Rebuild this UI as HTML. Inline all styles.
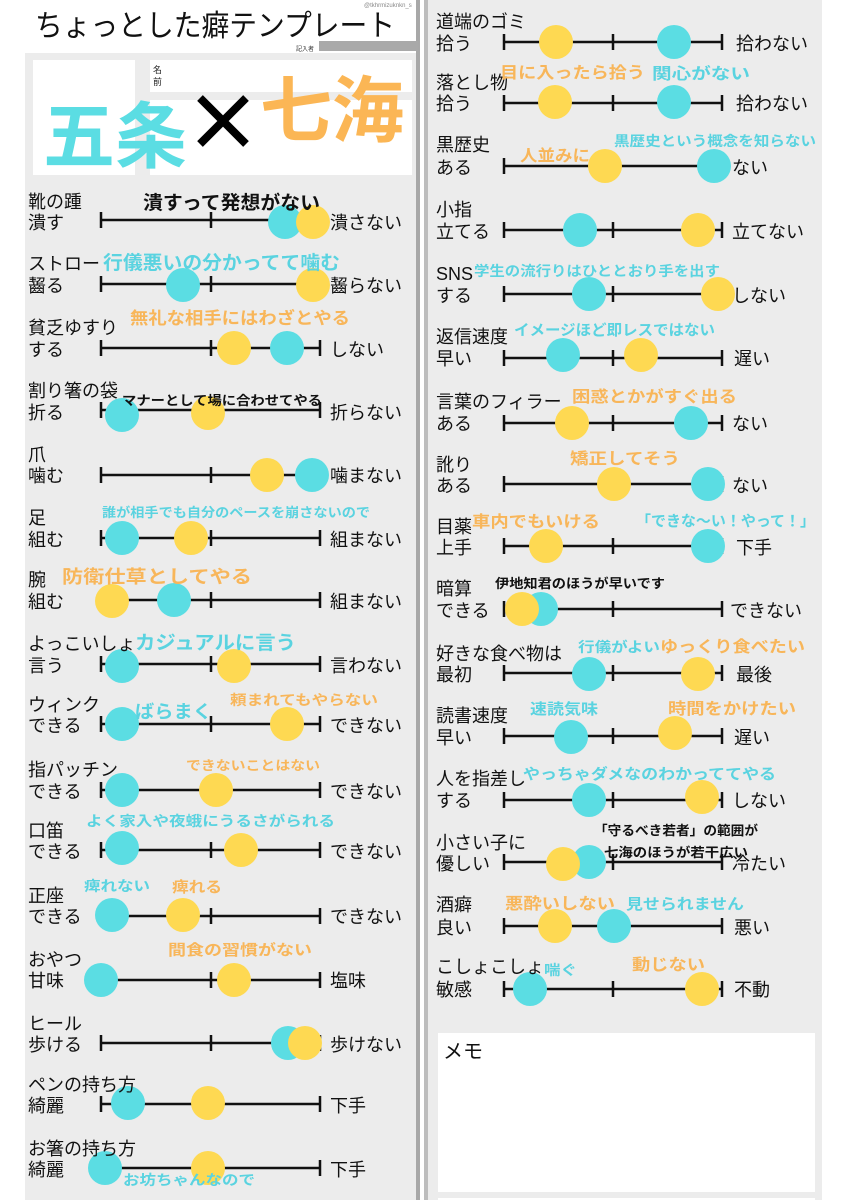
<!DOCTYPE html>
<html><head><meta charset="utf-8"><style>
html,body{margin:0;padding:0;background:#fff;}
svg{display:block;}
text{font-family:"Liberation Sans","Noto Sans CJK JP",sans-serif;}
.l{font-size:18px;fill:#111;}
.b{font-weight:bold;}
</style></head><body>
<svg width="848" height="1200" viewBox="0 0 848 1200" xmlns="http://www.w3.org/2000/svg">
<rect width="848" height="1200" fill="#fff"/>
<!-- left panel -->
<rect x="25" y="53" width="392" height="1147" fill="#ececec"/>
<rect x="416" y="0" width="4" height="1200" fill="#a8a8a8"/>
<rect x="424" y="0" width="4" height="1200" fill="#bdbdbd"/>
<!-- right panel -->
<rect x="428" y="0" width="394" height="1200" fill="#ececec"/>
<!-- title -->
<text x="35" y="36" font-size="30" fill="#111" textLength="360" lengthAdjust="spacingAndGlyphs">ちょっとした癖テンプレート</text>
<text x="364" y="7" font-size="6" fill="#888">@tkhrmizuknkn_s</text>
<text x="296" y="51" font-size="6" fill="#333">記入者</text>
<rect x="319" y="41" width="99" height="10" fill="#a9a9a9"/>
<!-- name area -->
<rect x="33" y="60" width="102" height="115" fill="#fff"/>
<rect x="150" y="60" width="262" height="32" fill="#fff"/>
<rect x="150" y="100" width="262" height="75" fill="#fff"/>
<text x="153" y="73" font-size="9" fill="#222">名</text>
<text x="153" y="85" font-size="9" fill="#222">前</text>
<text x="43" y="162" font-size="72" font-weight="bold" fill="#5bdde3" textLength="144" lengthAdjust="spacingAndGlyphs">五条</text>
<path d="M200 98 L246 144 M246 98 L200 144" stroke="#000" stroke-width="8"/>
<text x="260" y="136" font-size="72" font-weight="bold" fill="#fbb655" textLength="144" lengthAdjust="spacingAndGlyphs">七海</text>

<g stroke="#111" stroke-width="2.5">
<!-- left lines -->
<path d="M101 220H320M101 284H320M101 348H320M101 410H320M101 475H320M101 538H320M101 600H320M101 664H320M101 724H320M101 790H320M101 850H320M101 916H320M101 980H320M101 1043H320M101 1104H320M101 1168H320"/>
<path d="M101 212v16M211 212v16M320 212v16 M101 276v16M211 276v16M320 276v16 M101 340v16M211 340v16M320 340v16 M101 402v16M320 402v16 M101 467v16M211 467v16M320 467v16 M101 530v16M211 530v16M320 530v16 M101 592v16M211 592v16M320 592v16 M101 656v16M211 656v16M320 656v16 M101 716v16M211 716v16M320 716v16 M101 782v16M211 782v16M320 782v16 M101 842v16M211 842v16M320 842v16 M101 908v16M211 908v16M320 908v16 M101 972v16M211 972v16M320 972v16 M101 1035v16M211 1035v16M320 1035v16 M101 1096v16M320 1096v16 M101 1160v16M320 1160v16"/>
<!-- right lines -->
<path d="M504 42H722M504 103H722M504 166H722M504 230H722M504 294H722M504 358H722M504 423H722M504 484H722M504 546H722M504 609H722M504 673H722M504 736H722M504 800H722M504 862H722M504 926H722M504 989H722"/>
<path d="M504 34v16M613 34v16M722 34v16 M504 95v16M613 95v16M722 95v16 M504 158v16M722 158v16 M504 222v16M613 222v16M722 222v16 M504 286v16M613 286v16M722 286v16 M504 350v16M613 350v16M722 350v16 M504 415v16M613 415v16M722 415v16 M504 476v16M722 476v16 M504 538v16M613 538v16M722 538v16 M504 601v16M613 601v16M722 601v16 M504 665v16M613 665v16M722 665v16 M504 728v16M613 728v16M722 728v16 M504 792v16M613 792v16M722 792v16 M504 854v16M613 854v16M722 854v16 M504 918v16M722 918v16 M504 981v16M613 981v16M722 981v16"/>
</g>

<!-- left circles -->
<g>
<circle cx="285" cy="222" r="17" fill="#5bdde3"/><circle cx="313" cy="222" r="17" fill="#fed952"/>
<circle cx="183" cy="285" r="17" fill="#5bdde3"/><circle cx="313" cy="285" r="17" fill="#fed952"/>
<circle cx="234" cy="348" r="17" fill="#fed952"/><circle cx="287" cy="348" r="17" fill="#5bdde3"/>
<circle cx="122" cy="415" r="17" fill="#5bdde3"/><circle cx="208" cy="413" r="17" fill="#fed952"/>
<circle cx="267" cy="475" r="17" fill="#fed952"/><circle cx="312" cy="475" r="17" fill="#5bdde3"/>
<circle cx="122" cy="538" r="17" fill="#5bdde3"/><circle cx="191" cy="538" r="17" fill="#fed952"/>
<circle cx="112" cy="601" r="17" fill="#fed952"/><circle cx="174" cy="600" r="17" fill="#5bdde3"/>
<circle cx="122" cy="666" r="17" fill="#5bdde3"/><circle cx="234" cy="666" r="17" fill="#fed952"/>
<circle cx="122" cy="724" r="17" fill="#5bdde3"/><circle cx="287" cy="724" r="17" fill="#fed952"/>
<circle cx="122" cy="790" r="17" fill="#5bdde3"/><circle cx="216" cy="790" r="17" fill="#fed952"/>
<circle cx="122" cy="848" r="17" fill="#5bdde3"/><circle cx="241" cy="850" r="17" fill="#fed952"/>
<circle cx="112" cy="915" r="17" fill="#5bdde3"/><circle cx="183" cy="915" r="17" fill="#fed952"/>
<circle cx="101" cy="980" r="17" fill="#5bdde3"/><circle cx="234" cy="980" r="17" fill="#fed952"/>
<circle cx="288" cy="1043" r="17" fill="#5bdde3"/><circle cx="305" cy="1043" r="17" fill="#fed952"/>
<circle cx="128" cy="1103" r="17" fill="#5bdde3"/><circle cx="208" cy="1103" r="17" fill="#fed952"/>
<circle cx="105" cy="1168" r="17" fill="#5bdde3"/><circle cx="208" cy="1168" r="17" fill="#fed952"/>
</g>
<!-- right circles -->
<g>
<circle cx="556" cy="42" r="17" fill="#fed952"/><circle cx="674" cy="42" r="17" fill="#5bdde3"/>
<circle cx="555" cy="102" r="17" fill="#fed952"/><circle cx="674" cy="102" r="17" fill="#5bdde3"/>
<circle cx="605" cy="166" r="17" fill="#fed952"/><circle cx="714" cy="166" r="17" fill="#5bdde3"/>
<circle cx="580" cy="230" r="17" fill="#5bdde3"/><circle cx="698" cy="230" r="17" fill="#fed952"/>
<circle cx="589" cy="294" r="17" fill="#5bdde3"/><circle cx="718" cy="294" r="17" fill="#fed952"/>
<circle cx="563" cy="355" r="17" fill="#5bdde3"/><circle cx="641" cy="355" r="17" fill="#fed952"/>
<circle cx="572" cy="423" r="17" fill="#fed952"/><circle cx="691" cy="423" r="17" fill="#5bdde3"/>
<circle cx="614" cy="484" r="17" fill="#fed952"/><circle cx="708" cy="484" r="17" fill="#5bdde3"/>
<circle cx="546" cy="546" r="17" fill="#fed952"/><circle cx="708" cy="546" r="17" fill="#5bdde3"/>
<circle cx="541" cy="609" r="17" fill="#5bdde3"/><circle cx="522" cy="609" r="17" fill="#fed952"/>
<circle cx="589" cy="674" r="17" fill="#5bdde3"/><circle cx="698" cy="674" r="17" fill="#fed952"/>
<circle cx="571" cy="737" r="17" fill="#5bdde3"/><circle cx="675" cy="733" r="17" fill="#fed952"/>
<circle cx="589" cy="800" r="17" fill="#5bdde3"/><circle cx="702" cy="797" r="17" fill="#fed952"/>
<circle cx="589" cy="862" r="17" fill="#5bdde3"/><circle cx="563" cy="864" r="17" fill="#fed952"/>
<circle cx="555" cy="926" r="17" fill="#fed952"/><circle cx="614" cy="926" r="17" fill="#5bdde3"/>
<circle cx="530" cy="989" r="17" fill="#5bdde3"/><circle cx="702" cy="989" r="17" fill="#fed952"/>
</g>

<!-- left labels -->
<g class="l">
<text x="28" y="208">靴の踵</text><text x="28" y="229">潰す</text><text x="330" y="229">潰さない</text>
<text x="28" y="270">ストロー</text><text x="28" y="292">齧る</text><text x="330" y="292">齧らない</text>
<text x="28" y="334">貧乏ゆすり</text><text x="28" y="356">する</text><text x="330" y="356">しない</text>
<text x="28" y="397">割り箸の袋</text><text x="28" y="419">折る</text><text x="330" y="419">折らない</text>
<text x="28" y="461">爪</text><text x="28" y="482">噛む</text><text x="330" y="482">噛まない</text>
<text x="28" y="524">足</text><text x="28" y="546">組む</text><text x="330" y="546">組まない</text>
<text x="28" y="586">腕</text><text x="28" y="608">組む</text><text x="330" y="608">組まない</text>
<text x="28" y="650">よっこいしょ</text><text x="28" y="672">言う</text><text x="330" y="672">言わない</text>
<text x="28" y="711">ウィンク</text><text x="28" y="732">できる</text><text x="330" y="732">できない</text>
<text x="28" y="776">指パッチン</text><text x="28" y="798">できる</text><text x="330" y="798">できない</text>
<text x="28" y="837">口笛</text><text x="28" y="858">できる</text><text x="330" y="858">できない</text>
<text x="28" y="902">正座</text><text x="28" y="923">できる</text><text x="330" y="923">できない</text>
<text x="28" y="966">おやつ</text><text x="28" y="987">甘味</text><text x="330" y="987">塩味</text>
<text x="28" y="1030">ヒール</text><text x="28" y="1051">歩ける</text><text x="330" y="1051">歩けない</text>
<text x="28" y="1091">ペンの持ち方</text><text x="28" y="1112">綺麗</text><text x="330" y="1112">下手</text>
<text x="28" y="1155">お箸の持ち方</text><text x="28" y="1176">綺麗</text><text x="330" y="1176">下手</text>
</g>
<!-- right labels -->
<g class="l">
<text x="436" y="28">道端のゴミ</text><text x="436" y="50">拾う</text><text x="736" y="50">拾わない</text>
<text x="436" y="89">落とし物</text><text x="436" y="110">拾う</text><text x="736" y="110">拾わない</text>
<text x="436" y="151">黒歴史</text><text x="436" y="174">ある</text><text x="732" y="174">ない</text>
<text x="436" y="216">小指</text><text x="436" y="238">立てる</text><text x="732" y="238">立てない</text>
<text x="436" y="280">SNS</text><text x="436" y="302">する</text><text x="732" y="302">しない</text>
<text x="436" y="343">返信速度</text><text x="436" y="365">早い</text><text x="734" y="365">遅い</text>
<text x="436" y="408">言葉のフィラー</text><text x="436" y="430">ある</text><text x="732" y="430">ない</text>
<text x="436" y="471">訛り</text><text x="436" y="492">ある</text><text x="732" y="492">ない</text>
<text x="436" y="533">目薬</text><text x="436" y="554">上手</text><text x="736" y="554">下手</text>
<text x="436" y="595">暗算</text><text x="436" y="617">できる</text><text x="730" y="617">できない</text>
<text x="436" y="660">好きな食べ物は</text><text x="436" y="681">最初</text><text x="736" y="681">最後</text>
<text x="436" y="722">読書速度</text><text x="436" y="744">早い</text><text x="734" y="744">遅い</text>
<text x="436" y="785">人を指差し</text><text x="436" y="807">する</text><text x="732" y="807">しない</text>
<text x="436" y="849">小さい子に</text><text x="436" y="870">優しい</text><text x="732" y="870">冷たい</text>
<text x="436" y="911">酒癖</text><text x="436" y="934">良い</text><text x="734" y="934">悪い</text>
<text x="436" y="973">こしょこしょ</text><text x="436" y="996">敏感</text><text x="734" y="996">不動</text>
</g>

<!-- left annotations -->
<g class="b">
<text x="143" y="209" font-size="19" fill="#111" textLength="177" lengthAdjust="spacingAndGlyphs">潰すって発想がない</text>
<text x="103" y="269" font-size="19" fill="#5ad3e0" textLength="237" lengthAdjust="spacingAndGlyphs">行儀悪いの分かってて噛む</text>
<text x="130" y="324" font-size="17" fill="#f8b65a" textLength="220" lengthAdjust="spacingAndGlyphs">無礼な相手にはわざとやる</text>
<text x="122" y="405" font-size="13" fill="#111" textLength="200" lengthAdjust="spacingAndGlyphs">マナーとして場に合わせてやる</text>
<text x="102" y="517" font-size="13" fill="#5ad3e0" textLength="268" lengthAdjust="spacingAndGlyphs">誰が相手でも自分のペースを崩さないので</text>
<text x="62" y="583" font-size="18" fill="#f8b65a" textLength="190" lengthAdjust="spacingAndGlyphs">防衛仕草としてやる</text>
<text x="135" y="649" font-size="19" fill="#5ad3e0" textLength="161" lengthAdjust="spacingAndGlyphs">カジュアルに言う</text>
<text x="230" y="705" font-size="14" fill="#f8b65a" textLength="148" lengthAdjust="spacingAndGlyphs">頼まれてもやらない</text>
<text x="135" y="718" font-size="18" fill="#5ad3e0" textLength="77" lengthAdjust="spacingAndGlyphs">ばらまく</text>
<text x="186" y="770" font-size="13" fill="#f8b65a" textLength="134" lengthAdjust="spacingAndGlyphs">できないことはない</text>
<text x="86" y="826" font-size="14" fill="#5ad3e0" textLength="249" lengthAdjust="spacingAndGlyphs">よく家入や夜蛾にうるさがられる</text>
<text x="84" y="891" font-size="14" fill="#5ad3e0" textLength="66" lengthAdjust="spacingAndGlyphs">痺れない</text>
<text x="172" y="892" font-size="15" fill="#f8b65a" textLength="50" lengthAdjust="spacingAndGlyphs">痺れる</text>
<text x="168" y="955" font-size="15" fill="#f8b65a" textLength="144" lengthAdjust="spacingAndGlyphs">間食の習慣がない</text>
<text x="123" y="1185" font-size="14" fill="#5ad3e0" textLength="132" lengthAdjust="spacingAndGlyphs">お坊ちゃんなので</text>
</g>
<!-- right annotations -->
<g class="b">
<text x="500" y="78" font-size="16" fill="#f8b65a" textLength="145" lengthAdjust="spacingAndGlyphs">目に入ったら拾う</text>
<text x="652" y="79" font-size="16" fill="#5ad3e0" textLength="98" lengthAdjust="spacingAndGlyphs">関心がない</text>
<text x="614" y="146" font-size="14" fill="#5ad3e0" textLength="202" lengthAdjust="spacingAndGlyphs">黒歴史という概念を知らない</text>
<text x="520" y="161" font-size="16" fill="#f8b65a" textLength="70" lengthAdjust="spacingAndGlyphs">人並みに</text>
<text x="474" y="276" font-size="14" fill="#5ad3e0" textLength="246" lengthAdjust="spacingAndGlyphs">学生の流行りはひととおり手を出す</text>
<text x="514" y="335" font-size="15" fill="#5ad3e0" textLength="201" lengthAdjust="spacingAndGlyphs">イメージほど即レスではない</text>
<text x="572" y="402" font-size="16" fill="#f8b65a" textLength="165" lengthAdjust="spacingAndGlyphs">困惑とかがすぐ出る</text>
<text x="570" y="464" font-size="16" fill="#f8b65a" textLength="110" lengthAdjust="spacingAndGlyphs">矯正してそう</text>
<text x="472" y="527" font-size="16" fill="#f8b65a" textLength="128" lengthAdjust="spacingAndGlyphs">車内でもいける</text>
<text x="636" y="526" font-size="15" fill="#5ad3e0" textLength="179" lengthAdjust="spacingAndGlyphs">「できな～い！やって！」</text>
<text x="495" y="588" font-size="13" fill="#111" textLength="170" lengthAdjust="spacingAndGlyphs">伊地知君のほうが早いです</text>
<text x="578" y="652" font-size="14" fill="#5ad3e0" textLength="82" lengthAdjust="spacingAndGlyphs">行儀がよい</text>
<text x="660" y="652" font-size="16" fill="#f8b65a" textLength="145" lengthAdjust="spacingAndGlyphs">ゆっくり食べたい</text>
<text x="530" y="714" font-size="15" fill="#5ad3e0" textLength="68" lengthAdjust="spacingAndGlyphs">速読気味</text>
<text x="668" y="714" font-size="16" fill="#f8b65a" textLength="128" lengthAdjust="spacingAndGlyphs">時間をかけたい</text>
<text x="523" y="779" font-size="15" fill="#5ad3e0" textLength="253" lengthAdjust="spacingAndGlyphs">やっちゃダメなのわかっててやる</text>
<text x="594" y="835" font-size="13" fill="#111" textLength="164" lengthAdjust="spacingAndGlyphs">「守るべき若者」の範囲が</text>
<text x="604" y="857" font-size="13" fill="#111" textLength="144" lengthAdjust="spacingAndGlyphs">七海のほうが若干広い</text>
<text x="505" y="909" font-size="16" fill="#f8b65a" textLength="110" lengthAdjust="spacingAndGlyphs">悪酔いしない</text>
<text x="626" y="909" font-size="15" fill="#5ad3e0" textLength="118" lengthAdjust="spacingAndGlyphs">見せられません</text>
<text x="544" y="975" font-size="14" fill="#5ad3e0" textLength="33" lengthAdjust="spacingAndGlyphs">喘ぐ</text>
<text x="632" y="970" font-size="16" fill="#f8b65a" textLength="73" lengthAdjust="spacingAndGlyphs">動じない</text>
</g>

<!-- memo -->
<rect x="438" y="1033" width="377" height="159" fill="#fff"/>
<text x="443" y="1058" font-size="20" fill="#111">メモ</text>
<rect x="438" y="1198" width="377" height="2" fill="#fff"/>
</svg>
</body></html>
